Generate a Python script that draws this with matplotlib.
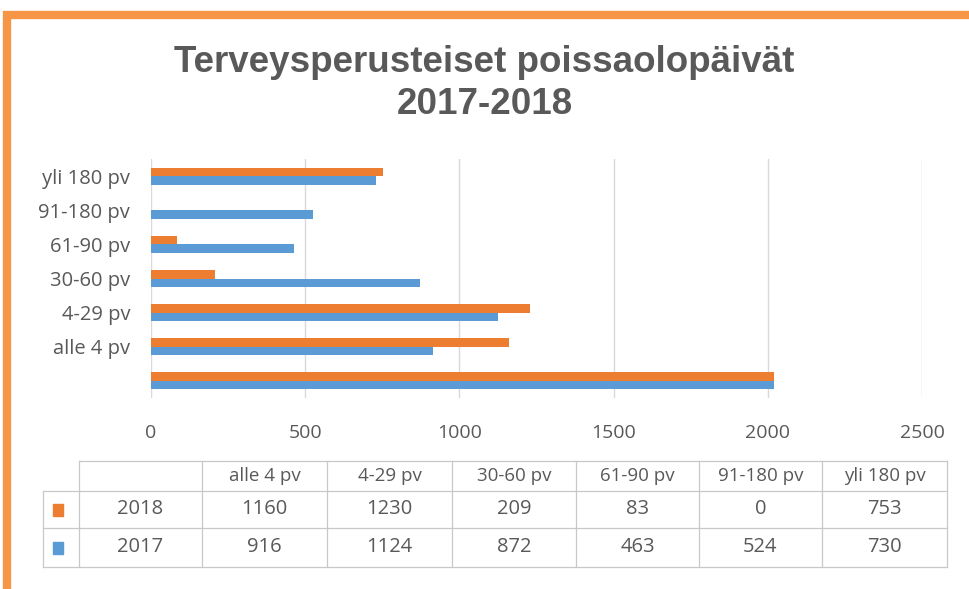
import matplotlib

matplotlib.use("Agg")
import matplotlib.pyplot as plt
import numpy as np
from matplotlib.patches import Rectangle

# data
categories = ["alle 4 pv", "4-29 pv", "30-60 pv", "61-90 pv", "91-180 pv", "yli 180 pv"]
values_2018 = [1160, 1230, 209, 83, 0, 753]
values_2017 = [916, 1124, 872, 463, 524, 730]
# unlabeled bottom bar pair shown in the chart (not in the table)
extra_2018 = 2020
extra_2017 = 2020
series_names = ["2018", "2017"]
x_ticks = [0, 500, 1000, 1500, 2000, 2500]

ORANGE = "#ED7D31"
BLUE = "#5B9BD5"
TEXT = "#595959"
GRID = "#D9D9D9"
FONT = "Open Sans"

W, H = 969, 589
fig = plt.figure(figsize=(W / 100, H / 100), dpi=100)


def fx(px):
    return px / W


def fy(py):
    return 1 - py / H


# orange frame (top + left edges visible)
fig.patches.append(Rectangle((fx(7), fy(H + 20)), fx(W + 40), fy(15) - fy(H + 20),
                             transform=fig.transFigure, fill=False,
                             edgecolor="#F79646", linewidth=6))

fig.text(0.5, fy(62), "Terveysperusteiset poissaolopäivät", ha="center", va="center",
         fontsize=26.5, fontweight="bold", color=TEXT, family="Liberation Sans")
fig.text(0.5, fy(104), "2017-2018", ha="center", va="center",
         fontsize=26.5, fontweight="bold", color=TEXT, family="Liberation Sans")

ax = fig.add_axes([fx(151), fy(398), fx(922 - 151), fy(159) - fy(398)])
labels = [""] + categories
v18 = [extra_2018] + values_2018
v17 = [extra_2017] + values_2017
y = np.arange(len(labels))
h = 0.25
ax.barh(y + h / 2, v18, height=h, color=ORANGE, zorder=3)
ax.barh(y - h / 2, v17, height=h, color=BLUE, zorder=3)
ax.set_ylim(-0.5, len(labels) - 0.5)
ax.set_xlim(0, 2500)
ax.set_xticks(x_ticks)
ax.set_xticklabels([str(t) for t in x_ticks], fontsize=14, color=TEXT, family=FONT)
ax.set_yticks(y)
ax.set_yticklabels(labels, fontsize=14.5, color=TEXT, family=FONT)
ax.tick_params(length=0)
ax.tick_params(axis="x", pad=19)
ax.tick_params(axis="y", pad=15)
ax.grid(axis="x", color=GRID, linewidth=1, zorder=0)
for s in ax.spines.values():
    s.set_visible(False)

# data table
col_edges = [79, 202, 327, 452, 576, 699, 822, 947]
row_edges = [461, 491, 528, 567]
lc = "#C8C8C8"
lw = 0.9
# horizontal lines
fig.add_artist(plt.Line2D([fx(79), fx(947)], [fy(461), fy(461)], color=lc, lw=lw))
for r in row_edges[1:]:
    fig.add_artist(plt.Line2D([fx(43), fx(947)], [fy(r), fy(r)], color=lc, lw=lw))
# vertical lines
for c in col_edges:
    fig.add_artist(plt.Line2D([fx(c), fx(c)], [fy(461), fy(567)], color=lc, lw=lw))
fig.add_artist(plt.Line2D([fx(43), fx(43)], [fy(491), fy(567)], color=lc, lw=lw))

for i, cat in enumerate(categories):
    cx = (col_edges[i + 1] + col_edges[i + 2]) / 2
    fig.text(fx(cx), fy(476), cat, ha="center", va="center", fontsize=13.5,
             color=TEXT, family=FONT)
rows = [(series_names[0], values_2018, ORANGE), (series_names[1], values_2017, BLUE)]
for j, (name, vals, col) in enumerate(rows):
    cy = (row_edges[j + 1] + row_edges[j + 2]) / 2
    fig.patches.append(Rectangle((fx(53), fy(cy + 6)), fx(10), fy(cy - 6) - fy(cy + 6),
                                 transform=fig.transFigure, color=col))
    fig.text(fx((col_edges[0] + col_edges[1]) / 2), fy(cy), name, ha="center", va="center",
             fontsize=14.5, color=TEXT, family=FONT)
    for i, v in enumerate(vals):
        cx = (col_edges[i + 1] + col_edges[i + 2]) / 2
        fig.text(fx(cx), fy(cy), str(v), ha="center", va="center", fontsize=14.5,
                 color=TEXT, family=FONT)

plt.savefig("out.png", dpi=100, facecolor="white")
plt.close()
